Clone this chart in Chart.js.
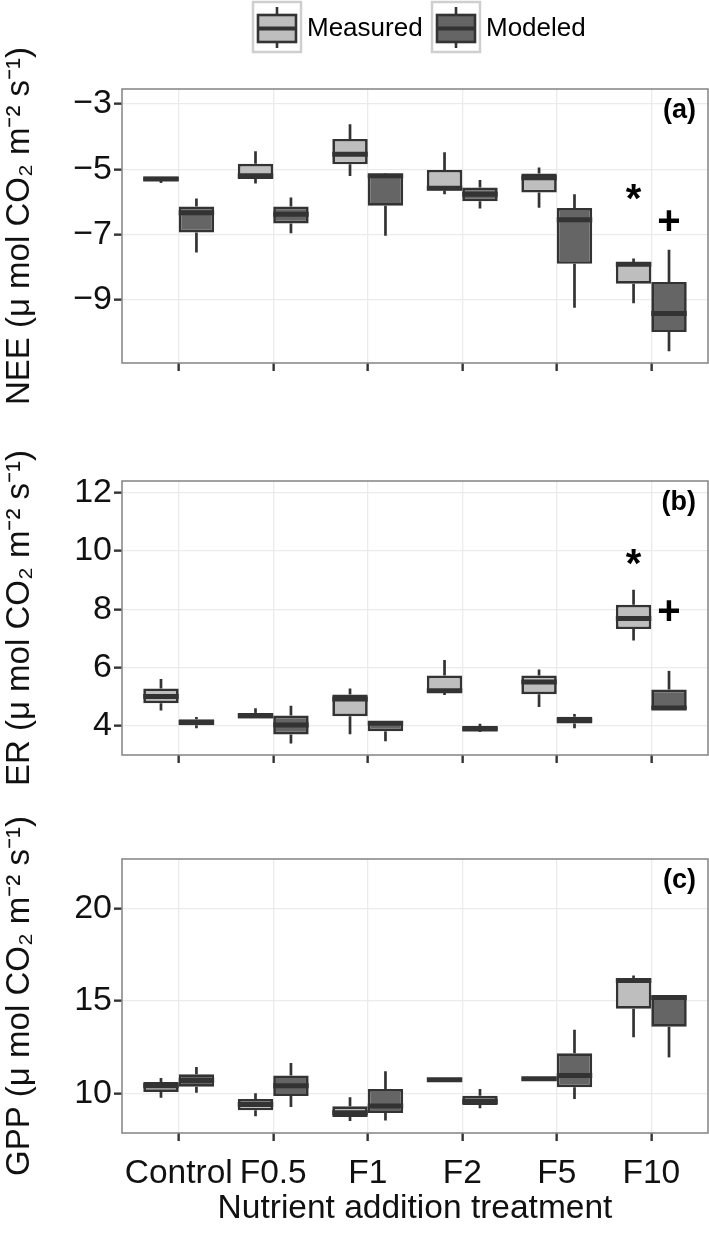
<!DOCTYPE html>
<html>
<head>
<meta charset="utf-8">
<script src="https://cdn.jsdelivr.net/npm/chart.js@4.4.1/dist/chart.umd.min.js"></script>
<style>
  html, body { margin: 0; padding: 0; background: #ffffff; }
  #wrap { position: relative; width: 709px; height: 1241px; overflow: hidden; background: #fff; }
  #wrap canvas { position: absolute; left: 0; }
</style>
</head>
<body>
<div id="wrap">
  <canvas id="cA" width="709" height="440" style="top:0px;width:709px;height:440px"></canvas>
  <canvas id="cB" width="709" height="430" style="top:400px;width:709px;height:430px"></canvas>
  <canvas id="cC" width="709" height="451" style="top:790px;width:709px;height:451px"></canvas>
</div>
<script>
// ---------------- data ----------------
const CATEGORIES = ['Control', 'F0.5', 'F1', 'F2', 'F5', 'F10'];
const SERIES_NAMES = ['Measured', 'Modeled'];

// each entry: [min, q1, median, q3, max]
const NEE_MEASURED = [
  [-5.42, -5.36, -5.30, -5.22, -5.22],
  [-5.44, -5.30, -5.20, -4.83, -4.45],
  [-5.21, -4.85, -4.54, -4.07, -3.62],
  [-5.77, -5.65, -5.58, -5.02, -4.48],
  [-6.18, -5.71, -5.26, -5.13, -4.95],
  [-9.11, -8.51, -7.91, -7.85, -7.74]
];
const NEE_MODELED = [
  [-7.55, -6.94, -6.33, -6.14, -5.90],
  [-6.96, -6.66, -6.38, -6.14, -5.87],
  [-7.04, -6.12, -5.20, -5.16, -5.13],
  [-6.20, -5.98, -5.77, -5.56, -5.33],
  [-9.25, -7.90, -6.55, -6.19, -5.77],
  [-10.58, -9.99, -9.42, -8.46, -7.47]
];
const ER_MEASURED = [
  [4.53, 4.78, 5.01, 5.29, 5.61],
  [4.26, 4.26, 4.35, 4.45, 4.61],
  [3.72, 4.34, 4.93, 5.08, 5.29],
  [5.06, 5.15, 5.21, 5.73, 6.26],
  [4.65, 5.09, 5.51, 5.73, 5.94],
  [6.93, 7.32, 7.68, 8.15, 8.67]
];
const ER_MODELED = [
  [3.93, 4.03, 4.12, 4.23, 4.31],
  [3.40, 3.71, 4.04, 4.36, 4.70],
  [3.48, 3.82, 4.10, 4.15, 4.15],
  [3.80, 3.84, 3.90, 4.00, 4.08],
  [3.93, 4.09, 4.20, 4.32, 4.41],
  [4.58, 4.58, 4.62, 5.25, 5.89]
];
const GPP_MEASURED = [
  [9.80, 10.11, 10.44, 10.65, 10.86],
  [8.80, 9.12, 9.44, 9.73, 10.04],
  [8.55, 8.76, 8.99, 9.34, 9.82],
  [10.74, 10.74, 10.77, 10.80, 10.80],
  [10.79, 10.79, 10.82, 10.85, 10.85],
  [13.05, 14.59, 16.11, 16.22, 16.38]
];
const GPP_MODELED = [
  [10.07, 10.39, 10.73, 11.06, 11.45],
  [9.30, 9.89, 10.45, 11.00, 11.67],
  [8.57, 8.98, 9.35, 10.27, 11.22],
  [9.23, 9.41, 9.60, 9.91, 10.27],
  [9.73, 10.36, 10.99, 12.19, 13.46],
  [11.97, 13.62, 15.20, 15.27, 15.27]
];

const NEE_TICKS = [-9, -7, -5, -3];
const ER_TICKS = [4, 6, 8, 10, 12];
const GPP_TICKS = [10, 15, 20];

const NEE_RANGE = [-10.94, -2.54];
const ER_RANGE = [3.01, 12.39];
const GPP_RANGE = [7.90, 22.65];

const NEE_TITLE = 'NEE (\u03BC mol CO\u2082 m\u207B\u00B2 s\u207B\u00B9)';
const ER_TITLE = 'ER (\u03BC mol CO\u2082 m\u207B\u00B2 s\u207B\u00B9)';
const GPP_TITLE = 'GPP (\u03BC mol CO\u2082 m\u207B\u00B2 s\u207B\u00B9)';
const X_TITLE = 'Nutrient addition treatment';

// significance marks: category, series, value, symbol
const NEE_MARKS = [
  { category: 'F10', series: 'Measured', value: -5.69, symbol: '*' },
  { category: 'F10', series: 'Modeled', value: -6.56, symbol: '+' }
];
const ER_MARKS = [
  { category: 'F10', series: 'Measured', value: 9.79, symbol: '*' },
  { category: 'F10', series: 'Modeled', value: 7.95, symbol: '+' }
];
const GPP_MARKS = [];

// ---------------- styling ----------------
const FONT = '"Liberation Sans", Arial, Helvetica, sans-serif';
const FILL = { Measured: '#bebebe', Modeled: '#656565' };
const EDGE = '#333333';
const GRID = '#ebebeb';
const PANEL_BORDER = '#8a8a8a';

const boxParts = {
  id: 'boxParts',
  beforeDatasetsDraw(chart) {
    const ctx = chart.ctx, ys = chart.scales.y;
    ctx.save();
    ctx.strokeStyle = EDGE;
    ctx.lineWidth = 2.7;
    ctx.lineCap = 'butt';
    chart.data.datasets.forEach((ds, di) => {
      const meta = chart.getDatasetMeta(di);
      meta.data.forEach((bar, i) => {
        const s = ds.stats[i];
        ctx.beginPath();
        ctx.moveTo(bar.x, ys.getPixelForValue(s[0]));
        ctx.lineTo(bar.x, ys.getPixelForValue(s[1]));
        ctx.moveTo(bar.x, ys.getPixelForValue(s[3]));
        ctx.lineTo(bar.x, ys.getPixelForValue(s[4]));
        ctx.stroke();
      });
    });
    ctx.restore();
  },
  afterDatasetsDraw(chart) {
    const ctx = chart.ctx, ys = chart.scales.y, area = chart.chartArea;
    ctx.save();
    ctx.strokeStyle = EDGE;
    ctx.lineWidth = 5;
    chart.data.datasets.forEach((ds, di) => {
      const meta = chart.getDatasetMeta(di);
      meta.data.forEach((bar, i) => {
        const y = ys.getPixelForValue(ds.stats[i][2]);
        ctx.beginPath();
        ctx.moveTo(bar.x - bar.width / 2, y);
        ctx.lineTo(bar.x + bar.width / 2, y);
        ctx.stroke();
      });
    });
    // panel border
    ctx.strokeStyle = PANEL_BORDER;
    ctx.lineWidth = 1.6;
    ctx.strokeRect(area.left, area.top, area.right - area.left, area.bottom - area.top);
    ctx.restore();
  },
  afterDraw(chart, args, opts) {
    const ctx = chart.ctx, ys = chart.scales.y, area = chart.chartArea;
    ctx.save();
    // significance marks
    (opts.marks || []).forEach(m => {
      const di = SERIES_NAMES.indexOf(m.series);
      const ci = CATEGORIES.indexOf(m.category);
      const bar = chart.getDatasetMeta(di).data[ci];
      const x = bar.x, y = ys.getPixelForValue(m.value);
      ctx.font = 'bold 40px ' + FONT;
      ctx.fillStyle = '#000';
      ctx.textAlign = 'center';
      ctx.textBaseline = 'alphabetic';
      const mt = ctx.measureText(m.symbol);
      const yOff = (mt.actualBoundingBoxAscent - mt.actualBoundingBoxDescent) / 2;
      ctx.fillText(m.symbol, x, y + yOff);
    });
    // panel tag
    if (opts.tag) {
      ctx.font = 'bold 27px ' + FONT;
      ctx.fillStyle = '#000';
      ctx.textAlign = 'right';
      ctx.textBaseline = 'middle';
      ctx.fillText(opts.tag, area.right - 12, area.top + 22);
    }
    // legend
    if (opts.legend) {
      const keys = [
        { name: SERIES_NAMES[0], kx: 252, tx: 307 },
        { name: SERIES_NAMES[1], kx: 431, tx: 486 }
      ];
      keys.forEach(k => {
        ctx.strokeStyle = '#cfcfcf';
        ctx.lineWidth = 2.5;
        ctx.strokeRect(k.kx + 1, 2, 48, 50);
        const cx = k.kx + 25;
        ctx.strokeStyle = EDGE;
        ctx.lineWidth = 2.6;
        ctx.beginPath();
        ctx.moveTo(cx, 7); ctx.lineTo(cx, 48);
        ctx.stroke();
        ctx.fillStyle = FILL[k.name];
        ctx.fillRect(cx - 19, 15, 38, 27);
        ctx.strokeRect(cx - 19, 15, 38, 27);
        ctx.lineWidth = 4;
        ctx.beginPath();
        ctx.moveTo(cx - 19, 28.5); ctx.lineTo(cx + 19, 28.5);
        ctx.stroke();
        ctx.font = '26px ' + FONT;
        ctx.fillStyle = '#000';
        ctx.textAlign = 'left';
        ctx.textBaseline = 'middle';
        ctx.fillText(k.name, k.tx, 29);
      });
    }
    ctx.restore();
  }
};

function fmtTick(v) {
  return (v < 0 ? '\u2212' + Math.abs(v) : String(v));
}

function makePanel(p) {
  const datasets = [p.measured, p.modeled].map((stats, si) => ({
    label: SERIES_NAMES[si],
    stats: stats,
    data: stats.map((s, i) => ({ x: i + 1, y: [s[1], s[3]] })),
    backgroundColor: FILL[SERIES_NAMES[si]],
    borderColor: EDGE,
    borderWidth: 2.7,
    borderSkipped: false,
    categoryPercentage: 0.75,
    barPercentage: 1.0
  }));
  return new Chart(document.getElementById(p.id), {
    type: 'bar',
    data: { datasets },
    plugins: [boxParts],
    options: {
      responsive: false,
      animation: false,
      events: [],
      layout: { padding: { top: p.padTop, right: 1, left: 0, bottom: 0 } },
      plugins: {
        legend: { display: false },
        tooltip: { enabled: false },
        boxParts: { marks: p.marks, tag: p.tag, legend: p.legend }
      },
      scales: {
        x: {
          type: 'linear',
          offset: false,
          min: 0.4,
          max: CATEGORIES.length + 0.6,
          afterBuildTicks: s => { s.ticks = CATEGORIES.map((c, i) => ({ value: i + 1 })); },
          afterFit: s => { s.height = p.xHeight; },
          border: { display: false },
          grid: { offset: false, color: GRID, lineWidth: 1.3, tickColor: EDGE, tickWidth: 2.4, tickLength: 8, drawTicks: true },
          ticks: {
            display: p.xLabels,
            autoSkip: false,
            maxRotation: 0,
            minRotation: 0,
            padding: 13,
            color: '#111',
            font: { size: 33.5, family: FONT },
            callback: v => CATEGORIES[Math.round(v) - 1]
          },
          title: {
            display: p.xLabels,
            text: X_TITLE,
            color: '#111',
            font: { size: 33.5, family: FONT },
            padding: { top: 0, bottom: 12 }
          }
        },
        y: {
          type: 'linear',
          min: p.range[0],
          max: p.range[1],
          afterBuildTicks: s => { s.ticks = p.ticks.map(v => ({ value: v })); },
          afterFit: s => { s.width = 122; },
          border: { display: false },
          grid: { color: GRID, lineWidth: 1.3, tickColor: EDGE, tickWidth: 2.4, tickLength: 8 },
          ticks: {
            padding: 2,
            color: '#111',
            font: { size: 34, family: FONT },
            callback: v => fmtTick(v)
          },
          title: {
            display: true,
            text: p.title,
            color: '#111',
            font: { size: 33, family: FONT },
            padding: { top: 0, bottom: 0 }
          }
        }
      }
    }
  });
}

const PANELS = [
  { id: 'cA', measured: NEE_MEASURED, modeled: NEE_MODELED, range: NEE_RANGE, ticks: NEE_TICKS,
    title: NEE_TITLE, tag: '(a)', marks: NEE_MARKS, padTop: 89, xHeight: 77, xLabels: false, legend: true },
  { id: 'cB', measured: ER_MEASURED, modeled: ER_MODELED, range: ER_RANGE, ticks: ER_TICKS,
    title: ER_TITLE, tag: '(b)', marks: ER_MARKS, padTop: 81, xHeight: 75, xLabels: false, legend: false },
  { id: 'cC', measured: GPP_MEASURED, modeled: GPP_MODELED, range: GPP_RANGE, ticks: GPP_TICKS,
    title: GPP_TITLE, tag: '(c)', marks: GPP_MARKS, padTop: 69, xHeight: 108, xLabels: true, legend: false }
];
PANELS.forEach(makePanel);
</script>
</body>
</html>
